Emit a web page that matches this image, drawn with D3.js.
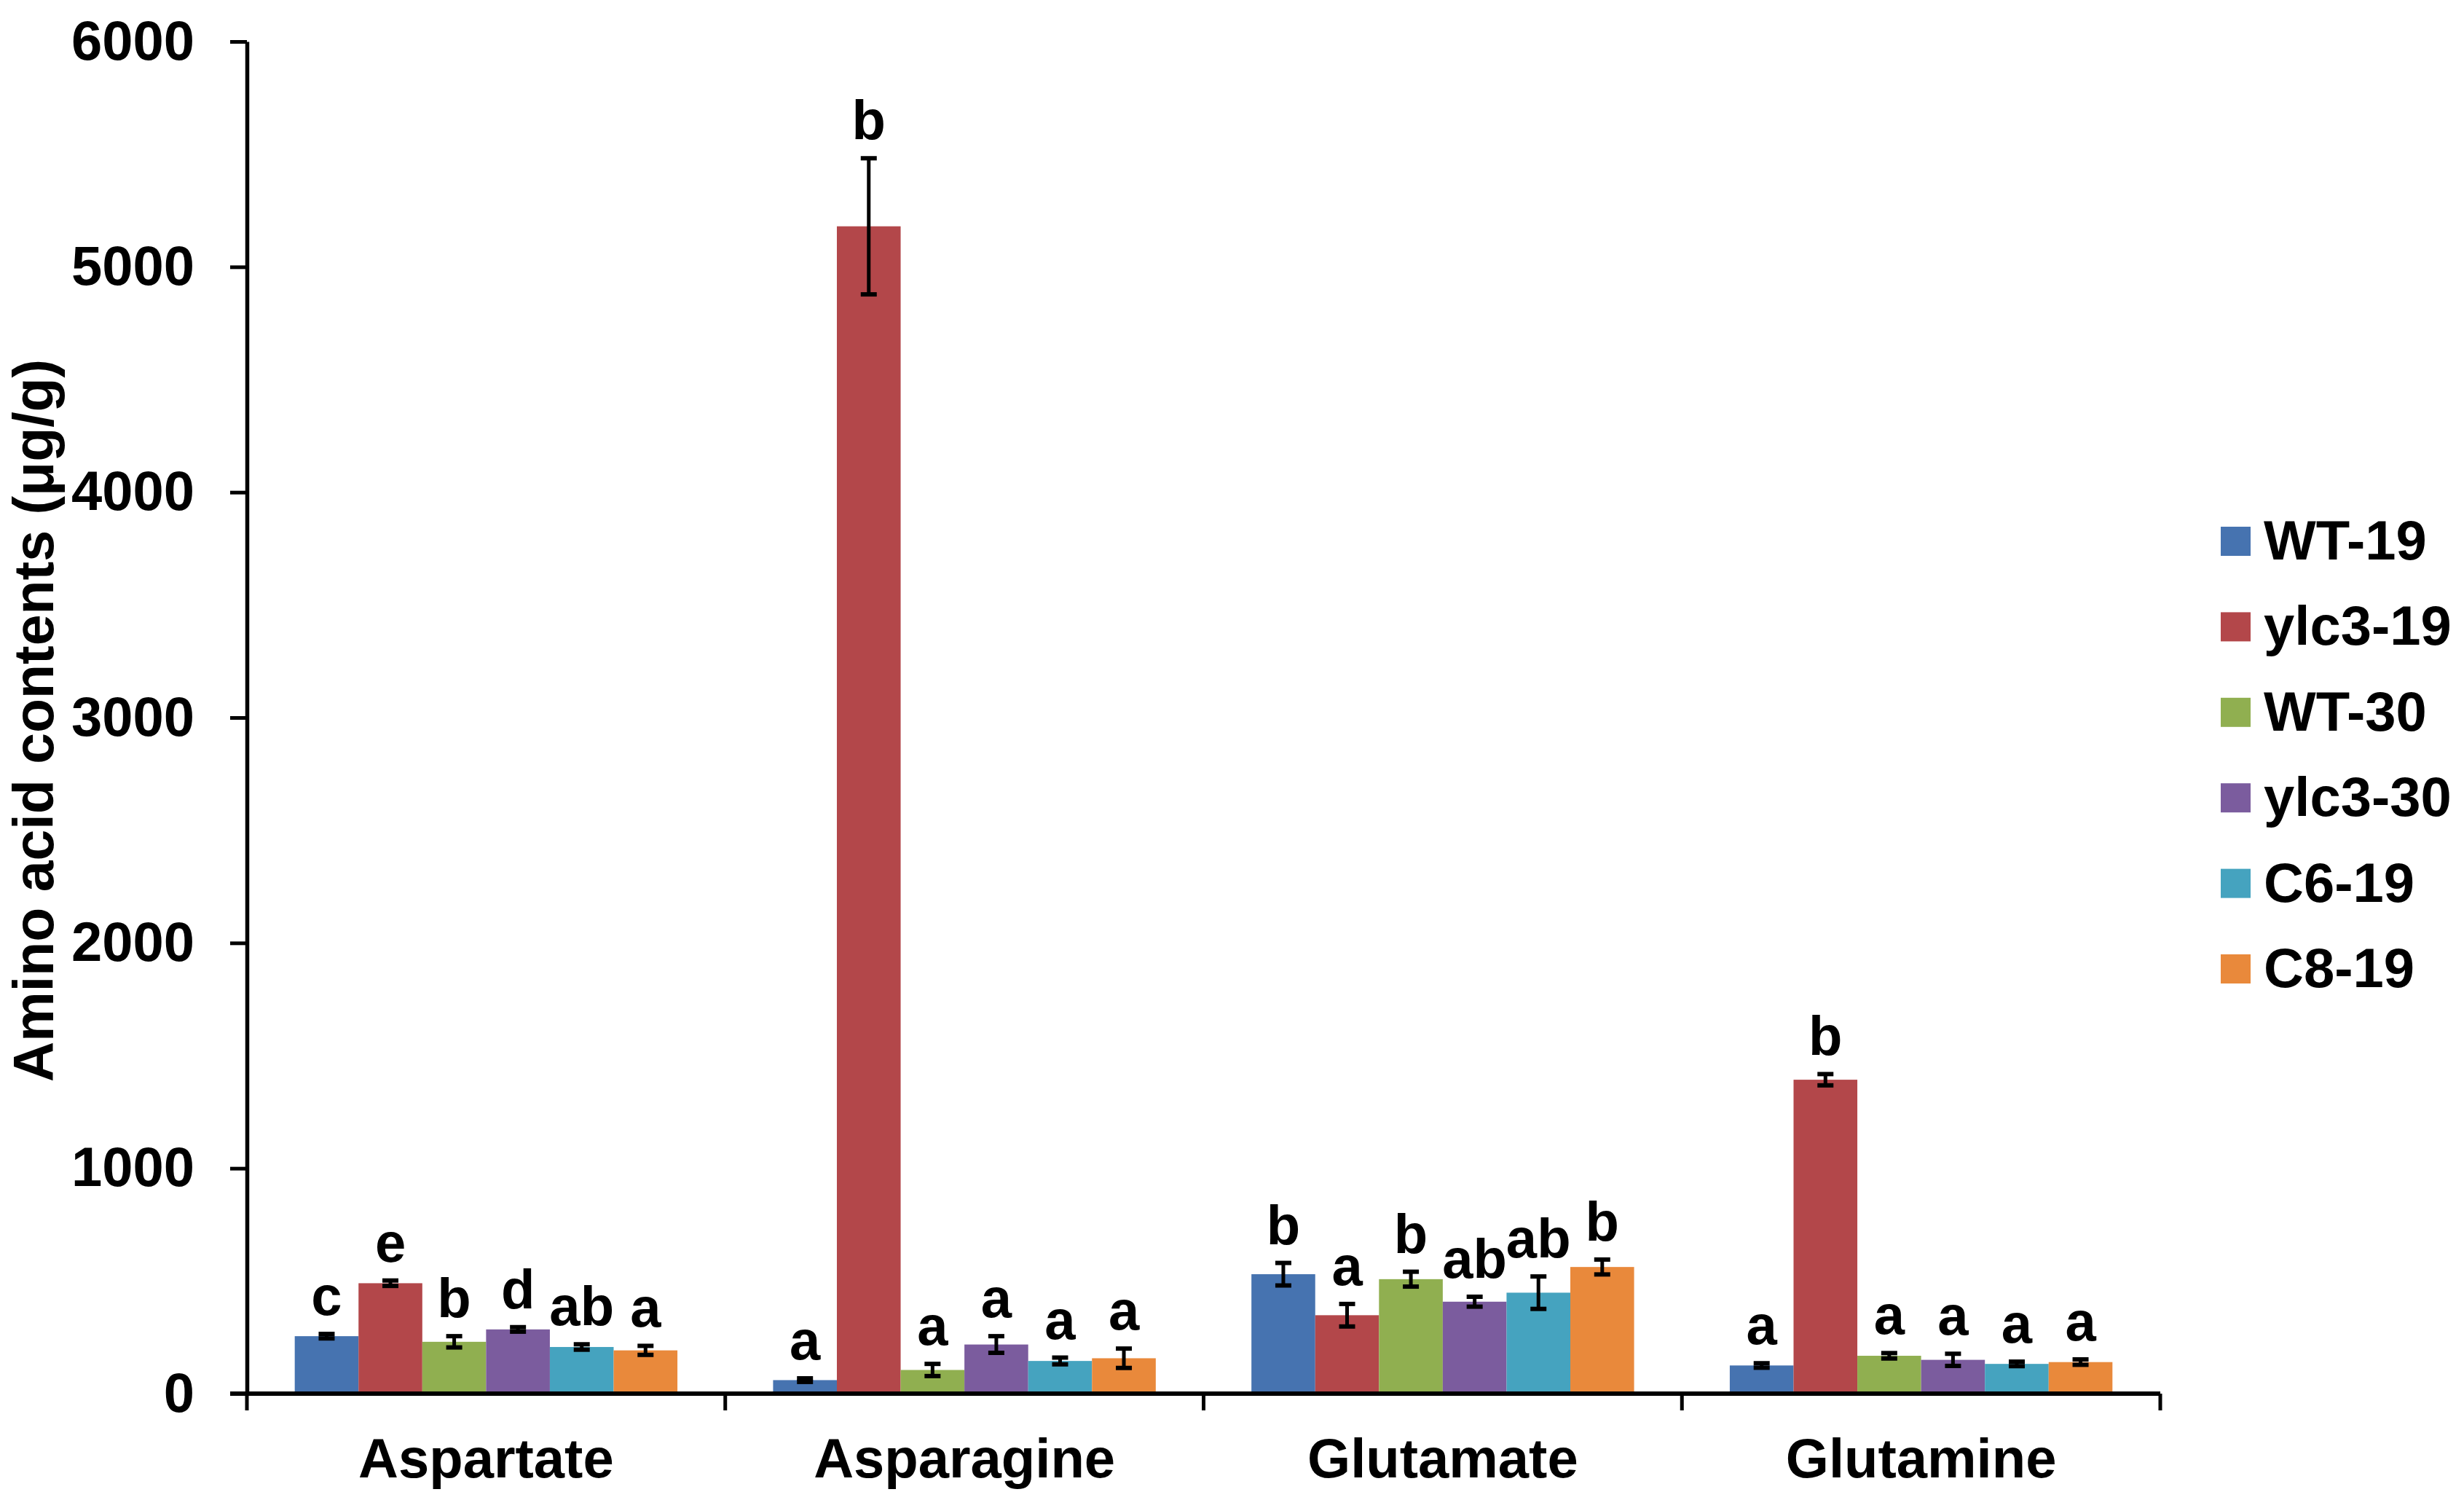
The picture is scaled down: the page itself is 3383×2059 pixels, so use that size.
<!DOCTYPE html>
<html>
<head>
<meta charset="utf-8">
<script src="https://cdn.jsdelivr.net/npm/d3@7"></script>
<style>
  html, body { margin: 0; padding: 0; background: #fff; }
  svg { display: block; font-family: "Liberation Sans", Arial, sans-serif; font-weight: bold; }
</style>
</head>
<body>
<svg id="chart" width="3383" height="2059"></svg>
<script>
// amino acid contents
const categories = ["Aspartate", "Asparagine", "Glutamate", "Glutamine"];
const seriesNames = ["WT-19", "ylc3-19", "WT-30", "ylc3-30", "C6-19", "C8-19"];
const seriesColors = ["#4673b0", "#b3474a", "#90af50", "#7b5c9e", "#45a3bf", "#e9893b"];

const wt19   = [255, 60, 530, 125];
const ylc319 = [490, 5180, 348, 1393];
const wt30   = [230, 105, 508, 168];
const ylc330 = [285, 218, 408, 150];
const c619   = [207, 145, 448, 132];
const c819   = [192, 157, 562, 140];

const errWt19   = [10, 8, 50, 10];
const errYlc319 = [12, 302, 50, 25];
const errWt30   = [25, 27, 33, 12];
const errYlc330 = [10, 37, 22, 27];
const errC619   = [12, 15, 72, 10];
const errC819   = [20, 43, 33, 12];

const letters = [
  ["c", "a", "b", "a"],
  ["e", "b", "a", "b"],
  ["b", "a", "b", "a"],
  ["d", "a", "ab", "a"],
  ["ab", "a", "ab", "a"],
  ["a", "a", "b", "a"]
];

const yTicks = [0, 1000, 2000, 3000, 4000, 5000, 6000];

const values = [wt19, ylc319, wt30, ylc330, c619, c819];
const errors = [errWt19, errYlc319, errWt30, errYlc330, errC619, errC819];

const svg = d3.select("#chart");
const plotL = 339, plotR = 2966, plotT = 57, plotB = 1913;

const x0 = d3.scaleBand().domain(categories).range([plotL, plotR])
  .paddingInner(0.2).paddingOuter(0.1);
const x1 = d3.scaleBand().domain(seriesNames).range([0, x0.bandwidth()]);
const y = d3.scaleLinear().domain([0, 6000]).range([plotB, plotT]);
const color = d3.scaleOrdinal().domain(seriesNames).range(seriesColors);

// flatten into bar records
const bars = [];
seriesNames.forEach((s, si) => {
  categories.forEach((c, ci) => {
    bars.push({ cat: c, series: s, v: values[si][ci], e: errors[si][ci], label: letters[si][ci] });
  });
});

// bars
svg.append("g")
  .selectAll("rect")
  .data(bars)
  .join("rect")
  .attr("x", d => x0(d.cat) + x1(d.series))
  .attr("y", d => y(d.v))
  .attr("width", x1.bandwidth())
  .attr("height", d => y(0) - y(d.v))
  .attr("fill", d => color(d.series));

// error bars
const eb = svg.append("g").attr("stroke", "#000").attr("stroke-width", 5);
const cx = d => x0(d.cat) + x1(d.series) + x1.bandwidth() / 2;
const capW = 11;
eb.selectAll("line.v").data(bars).join("line").attr("class", "v")
  .attr("x1", cx).attr("x2", cx)
  .attr("y1", d => y(d.v + d.e)).attr("y2", d => y(d.v - d.e));
eb.selectAll("line.top").data(bars).join("line").attr("class", "top")
  .attr("x1", d => cx(d) - capW).attr("x2", d => cx(d) + capW)
  .attr("y1", d => y(d.v + d.e)).attr("y2", d => y(d.v + d.e))
  .attr("stroke-width", 6);
eb.selectAll("line.bot").data(bars).join("line").attr("class", "bot")
  .attr("x1", d => cx(d) - capW).attr("x2", d => cx(d) + capW)
  .attr("y1", d => y(d.v - d.e)).attr("y2", d => y(d.v - d.e))
  .attr("stroke-width", 6);

// significance letters
svg.append("g")
  .selectAll("text")
  .data(bars)
  .join("text")
  .attr("x", cx)
  .attr("y", d => y(d.v + d.e) - 26)
  .attr("text-anchor", "middle")
  .attr("font-size", 76)
  .attr("fill", "#000")
  .text(d => d.label);

// y axis
const yAxis = svg.append("g")
  .attr("transform", `translate(${plotL},0)`)
  .call(d3.axisLeft(y).tickValues(yTicks).tickFormat(d3.format("d"))
    .tickSize(23).tickSizeOuter(0).tickPadding(49));
yAxis.select(".domain").attr("stroke", "#000").attr("stroke-width", 5.5);
yAxis.selectAll(".tick line").attr("stroke", "#000").attr("stroke-width", 5);
yAxis.selectAll("text").attr("font-size", 76).attr("font-family", "Liberation Sans, Arial, sans-serif")
  .attr("font-weight", "bold").attr("fill", "#000");

// x axis: category labels
const xAxis = svg.append("g")
  .attr("transform", `translate(0,${plotB})`)
  .call(d3.axisBottom(x0).tickSize(0).tickPadding(61));
xAxis.select(".domain").remove();
xAxis.selectAll("text").attr("font-size", 76).attr("font-family", "Liberation Sans, Arial, sans-serif")
  .attr("font-weight", "bold").attr("fill", "#000");

// x baseline and boundary ticks
const bounds = d3.range(categories.length + 1).map(i => plotL + i * x0.step());
svg.append("line")
  .attr("x1", plotL - 23).attr("x2", plotR)
  .attr("y1", plotB).attr("y2", plotB)
  .attr("stroke", "#000").attr("stroke-width", 6);
svg.append("g").selectAll("line").data(bounds).join("line")
  .attr("x1", d => d).attr("x2", d => d)
  .attr("y1", plotB).attr("y2", plotB + 23)
  .attr("stroke", "#000").attr("stroke-width", 5);

// y title
svg.append("text")
  .attr("transform", "translate(73,989) rotate(-90)")
  .attr("text-anchor", "middle")
  .attr("font-size", 77)
  .attr("fill", "#000")
  .text("Amino acid contents (\u03bcg/g)");

// legend
const legend = svg.append("g")
  .selectAll("g")
  .data(seriesNames)
  .join("g")
  .attr("transform", (d, i) => `translate(3049,${743 + i * 117.4})`);
legend.append("rect")
  .attr("x", 0).attr("y", -20)
  .attr("width", 41).attr("height", 40)
  .attr("fill", d => color(d));
legend.append("text")
  .attr("x", 59).attr("y", 25)
  .attr("font-size", 76)
  .attr("fill", "#000")
  .text(d => d);
</script>
</body>
</html>
